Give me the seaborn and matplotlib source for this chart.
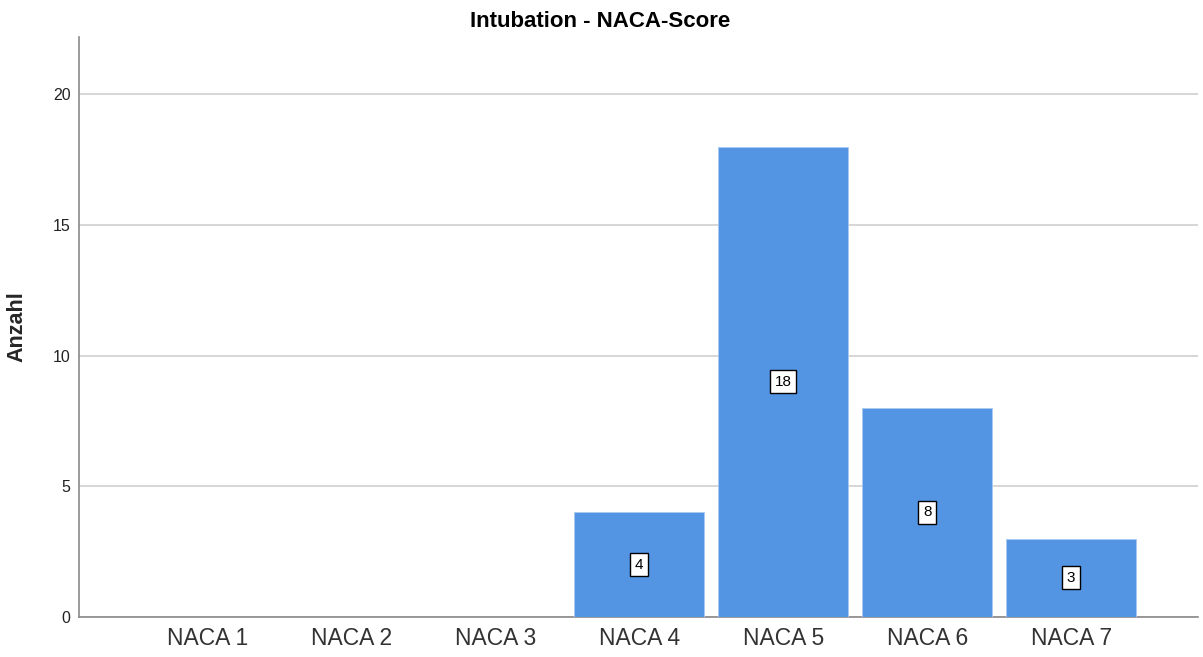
import matplotlib
matplotlib.use('Agg')

import pandas as pd
import matplotlib.pyplot as plt
import seaborn as sns

# --------------------------------------------------------------------------- #
# DATA
# --------------------------------------------------------------------------- #
categories = ["NACA 1", "NACA 2", "NACA 3", "NACA 4", "NACA 5", "NACA 6", "NACA 7"]
counts = [0, 0, 0, 4, 18, 8, 3]
y_ticks = [0, 5, 10, 15, 20]

BAR_COLOR = "#5394e3"
FONT = ["Liberation Sans", "DejaVu Sans"]

df = pd.DataFrame({"naca": categories, "anzahl": counts})

sns.set_style("white")
plt.rcParams["font.family"] = FONT

fig = plt.figure(figsize=(12.03, 6.57), dpi=100)
ax = fig.add_axes([0.0657, 0.0609, 0.930, 0.8828])

sns.barplot(data=df, x="naca", y="anzahl", color=BAR_COLOR, width=0.9,
            saturation=1, edgecolor="#a9c9f0", linewidth=0.6, ax=ax, zorder=3)

# value labels in boxes at half bar height
for i, v in enumerate(counts):
    if v > 0:
        ax.text(i, v / 2, str(v), ha="center", va="center", fontsize=11,
                color="black", zorder=5,
                bbox=dict(boxstyle="square,pad=0.3", facecolor="white",
                          edgecolor="black", linewidth=1.0))

ax.set_xlim(-0.89, 6.88)
ax.set_ylim(0, 22.2)
ax.set_yticks(y_ticks)
ax.yaxis.grid(True, color="#d0d0d0", linewidth=1.2, zorder=0)
ax.set_axisbelow(True)

for side in ["top", "right"]:
    ax.spines[side].set_visible(False)
for side in ["left", "bottom"]:
    ax.spines[side].set_color("#8a8a8a")
    ax.spines[side].set_linewidth(1.2)

ax.tick_params(axis="both", length=0)
ax.tick_params(axis="x", labelsize=16.5, labelcolor="#333333", pad=7)
ax.tick_params(axis="y", labelsize=11.5, labelcolor="#222222", pad=6)

ax.set_xlabel("")
ax.set_ylabel("Anzahl", fontsize=15.5, fontweight="bold", labelpad=18)
fig.suptitle("Intubation - NACA-Score", x=0.4985, y=0.967, fontsize=16,
             fontweight="bold", color="black", va="center")

plt.savefig("out.png", dpi=100)
plt.close()
